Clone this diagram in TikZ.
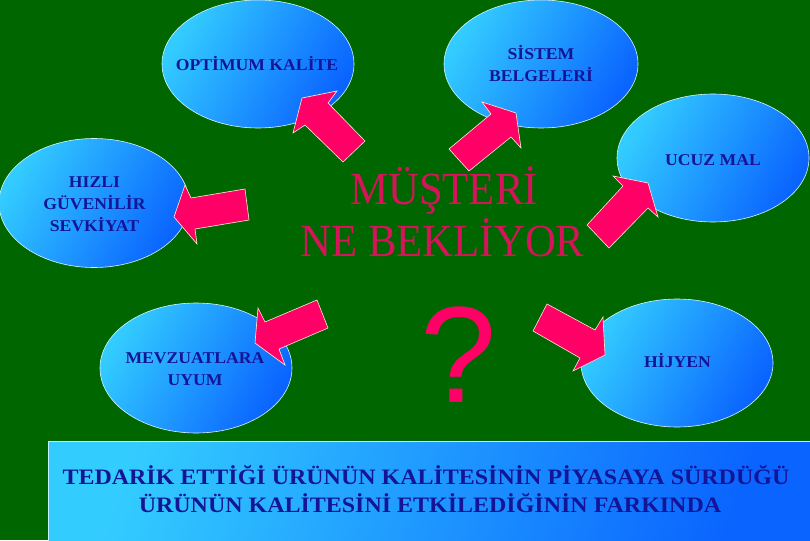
\documentclass[tikz,border=0pt]{standalone}
\usepackage{fontspec}
\usepackage{graphicx}
\usetikzlibrary{shapes.geometric}
\setmainfont{Liberation Serif}
\newfontfamily\qfont{Liberation Sans}
\definecolor{bg}{RGB}{0,102,0}
\definecolor{lightc}{RGB}{51,204,255}
\definecolor{darkb}{RGB}{10,100,255}
\definecolor{arrowc}{RGB}{255,0,102}
\definecolor{edgec}{RGB}{255,236,215}
\definecolor{labelc}{RGB}{20,20,150}
\definecolor{titlec}{RGB}{214,20,90}
\newcommand\lbl[1]{\scalebox{1.07}[1]{\begin{tabular}{@{}c@{}}#1\end{tabular}}}
\begin{document}
\begin{tikzpicture}[x=1pt,y=-1pt,
  bubble/.style={ellipse, draw=white!80!lightc, line width=0.6pt,
    top color=lightc, bottom color=darkb, shading angle=60,
    inner sep=0pt, minimum width=192pt, minimum height=128pt},
  label/.style={inner sep=0pt, text=labelc, font=\bfseries\fontsize{16.5}{22}\selectfont},
  boxtext/.style={inner sep=0pt, anchor=base, text=labelc, font=\bfseries\fontsize{22}{28}\selectfont},
  title/.style={inner sep=0pt, anchor=base, text=titlec, font=\fontsize{46}{46}\selectfont},
  blockarrow/.style={fill=arrowc, draw=edgec, line width=0.6pt, line join=miter}]
\useasboundingbox (0,0) rectangle (810,540);
\fill[bg] (0,0) rectangle (810,540);

% bubbles
\node[bubble] (opt) at (258,64) {};
\node[bubble, minimum width=194pt] (sis) at (541,64) {};
\node[bubble] (ucuz) at (713,158) {};
\node[bubble, minimum width=190pt, minimum height=129pt] (hizli) at (94,203) {};
\node[bubble, minimum height=130pt] (mevz) at (196,368) {};
\node[bubble] (hij) at (677,363) {};

\node[label] (toptl) at (257,66.5) {\lbl{OPTİMUM KALİTE}};
\node[label] (tsis) at (541,66) {\lbl{SİSTEM\\BELGELERİ}};
\node[label] (tucuz) at (713,161) {\lbl{UCUZ MAL}};
\node[label] (thiz) at (94.5,205.5) {\lbl{HIZLI\\GÜVENİLİR\\SEVKİYAT}};
\node[label] (tmevz) at (195,370) {\lbl{MEVZUATLARA\\UYUM}};
\node[label] (thij) at (677.5,363) {\lbl{HİJYEN}};

% block arrows
\draw[blockarrow] (302,98) -- (337,91) -- (328,103) -- (365,141) -- (343,162) -- (305,125) -- (293,133) -- cycle;
\draw[blockarrow] (516,113) -- (521,148) -- (511,137) -- (469,171) -- (449,149) -- (491,114) -- (482,102) -- cycle;
\draw[blockarrow] (648,183) -- (658,217) -- (648,208) -- (609,248) -- (587,225) -- (623,186) -- (613,176) -- cycle;
\draw[blockarrow] (174,217) -- (185,185) -- (191,198) -- (245,189) -- (249,220) -- (195,229) -- (197,244) -- cycle;
\draw[blockarrow] (255,343) -- (258,308) -- (265,322) -- (317,300) -- (328,328) -- (279,349) -- (285,365) -- cycle;
\draw[blockarrow] (605,355) -- (573,371) -- (580,358) -- (533,331) -- (547,304) -- (595,330) -- (603,317) -- cycle;

% central text
\node[title] (m1) at (444,204) {\scalebox{0.93}[1]{MÜŞTERİ}};
\node[title] (m2) at (442.5,256) {\scalebox{0.93}[1]{NE BEKLİYOR}};
\node[inner sep=0pt, anchor=base, text=arrowc, font=\qfont\fontsize{137}{137}\selectfont] (q) at (459,402) {?};

% bottom box
\node[rectangle, anchor=north west, inner sep=0pt, minimum width=766pt, minimum height=101pt,
  top color=lightc, bottom color=darkb, shading angle=70, draw=white!70!lightc, line width=0.6pt] (box) at (48,441) {};
\node[boxtext] (b1) at (426,484) {\scalebox{1.09}[1]{TEDARİK ETTİĞİ ÜRÜNÜN KALİTESİNİN PİYASAYA SÜRDÜĞÜ}};
\node[boxtext] (b2) at (430,512) {\scalebox{1.09}[1]{ÜRÜNÜN KALİTESİNİ ETKİLEDİĞİNİN FARKINDA}};
\end{tikzpicture}
\end{document}
